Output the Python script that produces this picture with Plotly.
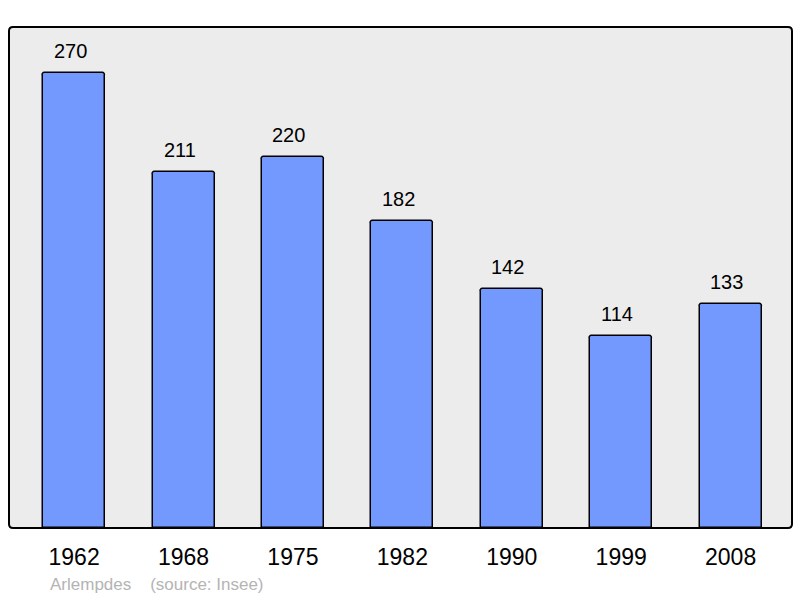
import plotly.graph_objects as go

years = ["1962", "1968", "1975", "1982", "1990", "1999", "2008"]
population = [270, 211, 220, 182, 142, 114, 133]

W, H = 800, 598
L, R, T, B = 9, 8, 27, 70
FONT = "Liberation Sans, Arial, sans-serif"

positions = list(range(len(years)))

fig = go.Figure()
fig.add_trace(go.Bar(
    x=positions, y=population,
    width=0.567,
    marker=dict(color="#7399ff", line=dict(color="#000000", width=1.5), cornerradius=3),
    hovertext=years, hoverinfo="text+y",
))

for i, v in zip(positions, population):
    fig.add_annotation(x=i, y=v, text=str(v), showarrow=False, yanchor="middle",
                       yshift=22, xshift=-4, font=dict(size=20, color="#000000", family=FONT))

fig.add_annotation(xref="paper", yref="paper", x=(48 - L) / (W - L - R),
                   y=-(584 - (H - B)) / (H - T - B), xanchor="left", yanchor="middle",
                   text="Arlempdes&nbsp;&nbsp;&nbsp;&nbsp;(source: Insee)", showarrow=False,
                   font=dict(size=17, color="#b4b4b4", family=FONT))

# rounded frame
pw, ph = W - L - R, H - T - B
rx, ry = 4 / pw, 4 / ph
path = (f"M {rx},0 L {1-rx},0 Q 1,0 1,{ry} L 1,{1-ry} Q 1,1 {1-rx},1 "
        f"L {rx},1 Q 0,1 0,{1-ry} L 0,{ry} Q 0,0 {rx},0 Z")
fig.add_shape(type="path", xref="paper", yref="paper", path=path,
              line=dict(color="#000000", width=2), layer="above")

fig.update_layout(
    width=W, height=H,
    margin=dict(l=L, r=R, t=T, b=B),
    paper_bgcolor="#ffffff",
    plot_bgcolor="#ececec",
    showlegend=False,
    bargap=0,
    xaxis=dict(range=[-0.595, 6.561], showgrid=False, zeroline=False,
               showline=False, ticks="", tickmode="array", tickvals=positions,
               ticktext=years, ticklabelstandoff=13,
               tickfont=dict(size=23, color="#000000", family=FONT), fixedrange=True),
    yaxis=dict(range=[0, 297.3], showgrid=False, zeroline=False, showline=False,
               showticklabels=False, ticks="", fixedrange=True),
)

fig.write_html("out.html", config={"displayModeBar": False},
               post_script="document.body.style.margin='0';")
